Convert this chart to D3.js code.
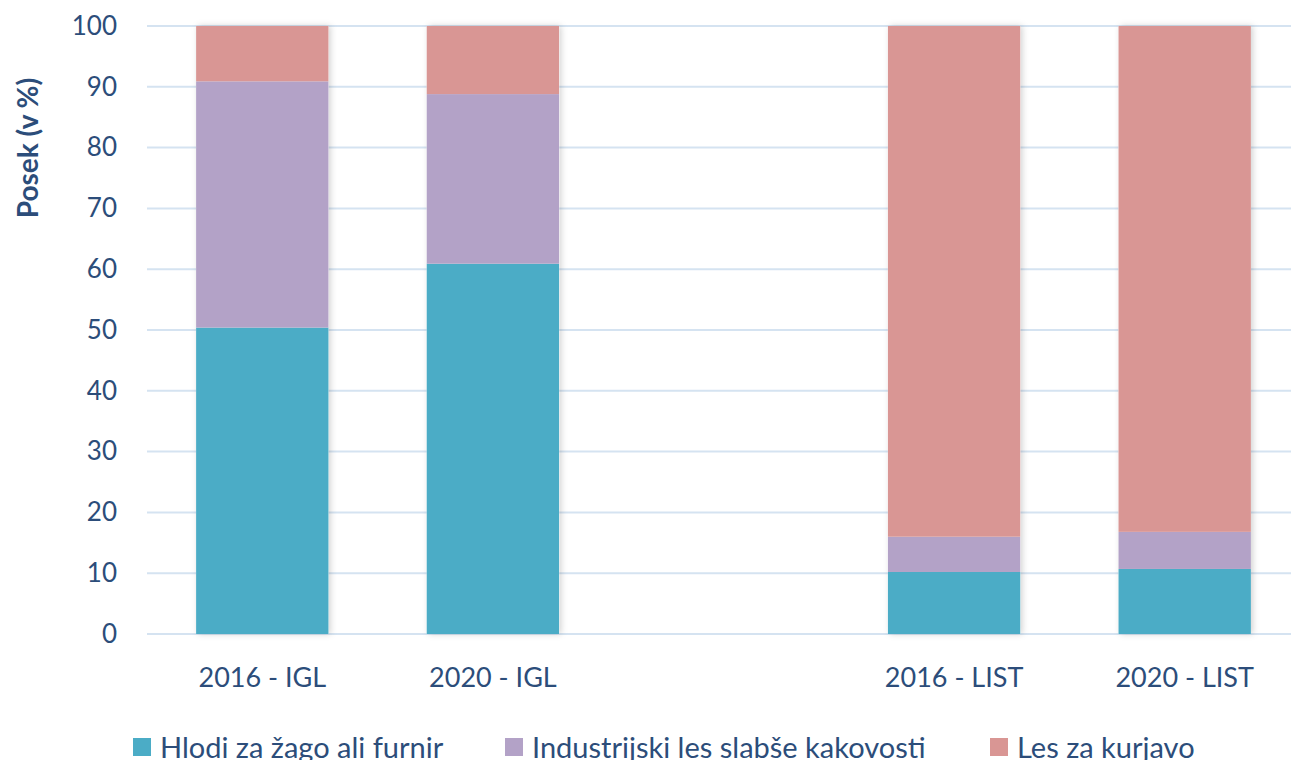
<!DOCTYPE html>
<html>
<head>
<meta charset="utf-8">
<script src="https://cdn.jsdelivr.net/npm/d3@7"></script>
<style>
  html, body { margin: 0; padding: 0; background: #fff; overflow: hidden; }
  svg { display: block; font-family: Lato, "Open Sans", sans-serif; }
</style>
</head>
<body>
<svg id="chart" width="1291" height="760"></svg>
<script>
// categories (the empty slot is the gap between IGL and LIST)
const categories = ['2016 - IGL', '2020 - IGL', '', '2016 - LIST', '2020 - LIST'];
const seriesNames = ['Hlodi za žago ali furnir', 'Industrijski les slabše kakovosti', 'Les za kurjavo'];
const hlodi = [50.4, 60.9, null, 10.2, 10.7];
const industrijski = [40.5, 27.9, null, 5.8, 6.1];
const kurjava = [9.1, 11.2, null, 84.0, 83.2];
const yTicks = [0, 10, 20, 30, 40, 50, 60, 70, 80, 90, 100];
const colors = ['#4BACC6', '#B3A2C7', '#D99694'];
const textColor = '#2C4D7A';

const svg = d3.select('#chart');
const margin = { top: 26, left: 147, bottom: 126 };
const height = 760;

// plot area runs past the right edge (the original picture is cropped)
const x = d3.scaleBand()
  .domain(categories.map((d, i) => i))
  .range([margin.left, 1300])
  .paddingInner(0.426)
  .paddingOuter(0.213);

const y = d3.scaleLinear()
  .domain([0, 100])
  .range([height - margin.bottom, margin.top]);

// soft shadow like the office chart
const defs = svg.append('defs');
const f = defs.append('filter').attr('id', 'shadow')
  .attr('x', '-10%').attr('y', '-5%').attr('width', '120%').attr('height', '110%');
f.append('feDropShadow').attr('dx', 2).attr('dy', 0).attr('stdDeviation', 3)
  .attr('flood-color', '#000').attr('flood-opacity', 0.18);

// gridlines
svg.append('g')
  .selectAll('line')
  .data(yTicks)
  .join('line')
  .attr('x1', margin.left)
  .attr('x2', 1291)
  .attr('y1', d => y(d))
  .attr('y2', d => y(d))
  .attr('stroke', '#D5E3F1')
  .attr('stroke-width', 2);

// y axis labels
const yAxis = svg.append('g')
  .attr('transform', `translate(${margin.left},0)`)
  .call(d3.axisLeft(y).tickValues(yTicks).tickSize(0).tickPadding(30));
yAxis.select('.domain').remove();
yAxis.selectAll('text')
  .attr('fill', textColor)
  .style('font-size', '26px')
  .style('font-family', 'Lato, "Open Sans", sans-serif');

// axis title
svg.append('text')
  .attr('transform', 'translate(38,148) rotate(-90)')
  .attr('text-anchor', 'middle')
  .attr('fill', textColor)
  .style('font-size', '28px')
  .style('font-weight', 'bold')
  .text('Posek (v %)');

// stacked bars
const rows = categories.map((c, i) => ({ i, s0: hlodi[i], s1: industrijski[i], s2: kurjava[i] }))
  .filter(d => d.s0 != null);
const stack = d3.stack().keys(['s0', 's1', 's2'])(rows);

const barG = svg.append('g');
rows.forEach(r => {
  barG.append('rect')
    .attr('x', x(r.i))
    .attr('width', x.bandwidth())
    .attr('y', y(100))
    .attr('height', y(0) - y(100))
    .attr('fill', '#fff')
    .attr('filter', 'url(#shadow)');
});
stack.forEach((layer, k) => {
  barG.append('g')
    .selectAll('rect')
    .data(layer)
    .join('rect')
    .attr('x', d => x(d.data.i))
    .attr('width', x.bandwidth())
    .attr('y', d => y(d[1]))
    .attr('height', d => y(d[0]) - y(d[1]))
    .attr('fill', colors[k]);
});

// category labels
const xAxis = svg.append('g')
  .attr('transform', `translate(0,${y(0)})`)
  .call(d3.axisBottom(x).tickFormat(i => categories[i]).tickSize(0).tickPadding(34));
xAxis.select('.domain').remove();
xAxis.selectAll('text')
  .attr('fill', textColor)
  .style('font-size', '27px')
  .style('font-family', 'Lato, "Open Sans", sans-serif');

// legend
const legendX = [133, 505, 990];
const legend = svg.append('g');
seriesNames.forEach((name, k) => {
  legend.append('rect')
    .attr('x', legendX[k]).attr('y', 738)
    .attr('width', 18).attr('height', 18)
    .attr('fill', colors[k]);
  legend.append('text')
    .attr('x', legendX[k] + 27).attr('y', 758)
    .attr('fill', textColor)
    .style('font-size', '29px')
    .text(name);
});
</script>
</body>
</html>
